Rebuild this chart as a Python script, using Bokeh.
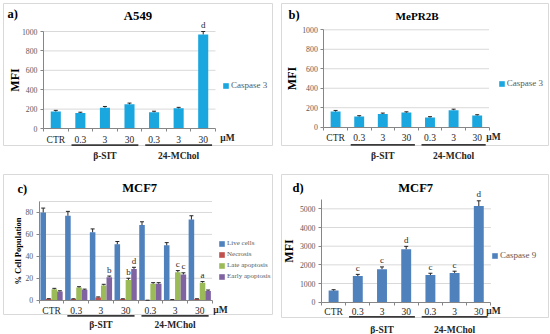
from bokeh.plotting import figure
from bokeh.layouts import column, row
from bokeh.models import (Range1d, FixedTicker, Legend, LegendItem, Label,
                          Whisker, TeeHead, ColumnDataSource, BoxAnnotation)
from bokeh.embed import file_html
from bokeh.resources import INLINE

# ---------------- data ----------------
categories = ["CTR", "0.3", "3", "30", "0.3", "3", "30"]
treatment_groups = ["β-SIT", "24-MChol"]
group_members = [[1, 2, 3], [4, 5, 6]]
unit_text = "μM"

a549_caspase3 = [175, 160, 215, 250, 168, 208, 970]
a549_caspase3_err = [12, 8, 12, 12, 10, 10, 30]
a549_letters = ["", "", "", "", "", "", "d"]

mepr2b_caspase3 = [160, 110, 135, 150, 100, 175, 120]
mepr2b_caspase3_err = [12, 8, 10, 8, 8, 10, 8]
mepr2b_letters = ["", "", "", "", "", "", ""]

mcf7_live = [80, 77, 62, 51, 68.5, 50, 73.5]
mcf7_live_err = [4, 4, 3, 2.5, 3, 2.5, 3.5]
mcf7_necrosis = [1, 1, 2.5, 1, 0, 0.4, 1]
mcf7_necrosis_err = [0.4, 0.3, 0.5, 0.3, 0, 0.2, 0.3]
mcf7_late = [10, 11.5, 13.5, 18.5, 15, 25.5, 16]
mcf7_late_err = [0.8, 0.8, 1.0, 1.5, 1.0, 1.5, 1.0]
mcf7_early = [8, 9.5, 21, 28.5, 15, 23.5, 8.5]
mcf7_early_err = [0.6, 0.6, 1.0, 1.5, 1.0, 1.5, 0.8]
mcf7_live_letters = ["", "", "", "", "", "", ""]
mcf7_necrosis_letters = ["", "", "", "", "", "", ""]
mcf7_late_letters = ["", "", "", "b", "", "c", "a"]
mcf7_early_letters = ["", "", "b", "d", "", "c", ""]

mcf7_caspase9 = [620, 1400, 1770, 2840, 1450, 1570, 5150]
mcf7_caspase9_err = [50, 90, 120, 150, 100, 90, 280]
mcf7_caspase9_letters = ["", "c", "c", "d", "c", "c", "d"]

# ---------------- style ----------------
FONT = "Liberation Serif"
FIG_W, FIG_H = 275, 167
TICK_GRAY = "#595959"
AXIS_GRAY = "#868686"
GRID_GRAY = "#D9D9D9"
DARK = "#262626"
CYAN = "#1AA7E0"
BLUE = "#4F81BD"
RED = "#C0504D"
GREEN = "#9BBB59"
PURPLE = "#8064A2"


def fpx(v):
    return "%.1fpx" % v


def make_panel(g, title, tag, ylabel, yticks, gridticks, ymax, series,
               bar_width, offsets):
    n = len(categories)
    idx = list(range(n))
    # plot-area geometry in figure pixels (figure frame covers the whole cell)
    L, R = g["axis_x"], g["plot_right"]
    T, B = g["top_px"], g["zero_px"]
    catw = (R - L) / float(n)
    ppu = (B - T) / float(ymax)
    x_start = -0.5 - L / catw
    x_end = x_start + FIG_W / catw
    y_end = B / ppu
    y_start = (B - FIG_H) / ppu

    def X(cx):
        return x_start + cx / catw

    def Y(cy):
        return (B - cy) / ppu

    p = figure(width=FIG_W, height=FIG_H,
               x_range=Range1d(x_start, x_end), y_range=Range1d(y_start, y_end),
               min_border=0, output_backend="svg", toolbar_location=None)
    p.outline_line_color = None
    p.xgrid.visible = False
    p.ygrid.visible = False

    # gridlines limited to the plot area
    p.segment(x0=-0.5, x1=n - 0.5, y0=gridticks, y1=gridticks,
              line_color=GRID_GRAY, line_width=1, level="underlay")

    # y axis
    ya = p.yaxis[0]
    ya.fixed_location = -0.5
    ya.bounds = (0, ymax)
    ya.ticker = FixedTicker(ticks=yticks)
    ya.axis_line_color = AXIS_GRAY
    ya.major_tick_line_color = AXIS_GRAY
    ya.major_tick_out = 3
    ya.major_tick_in = 0
    ya.minor_tick_line_color = None
    ya.major_label_text_font = FONT
    ya.major_label_text_font_size = fpx(7.8)
    ya.major_label_text_color = TICK_GRAY
    ya.major_label_standoff = 3
    ya.axis_label = ylabel
    ya.axis_label_text_font = FONT
    ya.axis_label_text_font_style = "bold"
    ya.axis_label_text_font_size = fpx(g["ylabel_font"])
    ya.axis_label_text_color = "#000000"
    ya.axis_label_standoff = int(g["ylabel_standoff"])

    # x axis (category labels)
    xa = p.xaxis[0]
    xa.fixed_location = 0
    xa.bounds = (-0.5, n - 0.5)
    xa.ticker = FixedTicker(ticks=idx, minor_ticks=[i - 0.5 for i in range(n + 1)])
    xa.major_label_overrides = {i: c for i, c in enumerate(categories)}
    xa.major_tick_line_color = None
    xa.major_tick_out = 0
    xa.major_tick_in = 0
    xa.minor_tick_out = 3
    xa.minor_tick_in = 0
    xa.minor_tick_line_color = AXIS_GRAY
    xa.axis_line_color = AXIS_GRAY
    xa.major_label_text_font = FONT
    xa.major_label_text_font_size = fpx(9.5)
    xa.major_label_text_color = DARK
    xa.major_label_standoff = int(g["xlabel_standoff"])

    items = []
    for (vals, errs, letters, color, label), off in zip(series, offsets):
        xs = [i + off for i in idx]
        r = p.vbar(x=xs, top=vals, width=bar_width, fill_color=color, line_color=None)
        items.append(LegendItem(label=label, renderers=[r]))
        src = ColumnDataSource(dict(base=xs, lower=vals,
                                    upper=[v + e for v, e in zip(vals, errs)]))
        p.add_layout(Whisker(source=src, base="base", lower="lower", upper="upper",
                             dimension="height", line_color=DARK, line_width=1,
                             lower_head=None,
                             upper_head=TeeHead(size=4, line_color=DARK, line_width=1),
                             level="annotation"))
        for x, v, e, t in zip(xs, vals, errs, letters):
            if t:
                p.add_layout(Label(x=x, y=v + e + 1.5 / ppu, text=t, text_align="center",
                                   text_baseline="bottom", text_font=FONT,
                                   text_font_size=fpx(9), text_color=DARK))

    # legend
    lf = g["legend_font"]
    row_h = lf * 1.15
    cys = g["legend_cy"]
    bottom = cys[-1] + row_h / 2 + g.get("legend_dy", 0)
    legend = Legend(items=items, location=(g["legend_x"], FIG_H - bottom),
                    orientation="vertical", glyph_width=7, glyph_height=7,
                    label_standoff=2, label_height=int(lf), label_width=10,
                    padding=0, margin=0, spacing=g.get("legend_spacing", 0),
                    border_line_color=None, background_fill_alpha=0,
                    label_text_font=FONT, label_text_font_size=fpx(lf),
                    label_text_color=TICK_GRAY)
    p.add_layout(legend)

    # title and panel tag
    p.add_layout(Label(x=X(g["title_left"]), y=Y(g["title_cy"]), text=title,
                       text_align="left", text_baseline="middle", text_font=FONT,
                       text_font_style="bold", text_font_size=fpx(g["title_font"]),
                       text_color="#000000"))
    p.add_layout(Label(x=X(g["tag_x"]), y=Y(g["tag_y"]), text=tag, text_align="left",
                       text_baseline="middle", text_font=FONT, text_font_style="bold",
                       text_font_size=fpx(12.5), text_color="#000000"))
    # unit
    p.add_layout(Label(x=X(g["unit_x"]), y=Y(g["cat_y"]), text=unit_text, text_align="center",
                       text_baseline="middle", text_font=FONT, text_font_style="bold",
                       text_font_size=fpx(9.5), text_color=DARK))
    # treatment groups: underline + name
    for name, members in zip(treatment_groups, group_members):
        p.segment(x0=members[0] - 0.36, x1=members[-1] + 0.36,
                  y0=Y(g["line_y"]), y1=Y(g["line_y"]),
                  line_color="#3A3A3A", line_width=1.8)
        p.add_layout(Label(x=sum(members) / float(len(members)), y=Y(g["group_y"]), text=name,
                           text_align="center", text_baseline="middle", text_font=FONT,
                           text_font_style="bold", text_font_size=fpx(9.5),
                           text_color=DARK))
    # chart area border
    bx = g["box"]
    p.add_layout(BoxAnnotation(left=X(bx[0]), right=X(bx[2]), top=Y(bx[1]), bottom=Y(bx[3]),
                               fill_color=None, line_color=GRID_GRAY, line_alpha=1,
                               line_width=1, level="underlay"))
    return p


geo_a = dict(axis_x=43, plot_right=215, top_px=31, zero_px=128,
             title_left=123.3, title_cy=15, title_font=12.8,
             tag_x=7, tag_y=13.5, ylabel_font=12, ylabel_standoff=-3,
             xlabel_standoff=3, cat_y=137.5, unit_x=227, line_y=144.6, group_y=155,
             legend_x=222, legend_cy=[85], legend_font=9, box=(3, 3, 272, 145))
geo_b = dict(axis_x=48.3, plot_right=213.5, top_px=29.3, zero_px=126.7,
             title_left=120, title_cy=15, title_font=11.1,
             tag_x=13, tag_y=14, ylabel_font=12, ylabel_standoff=0,
             xlabel_standoff=3, cat_y=136.5, unit_x=218, line_y=144.3, group_y=155.7,
             legend_x=222.7, legend_cy=[83], legend_font=9, box=(6, 3, 273, 145))
geo_c = dict(axis_x=38.7, plot_right=211.6, top_px=34, zero_px=132.7,
             title_left=121.7, title_cy=20, title_font=12.6,
             tag_x=17, tag_y=21.5, ylabel_font=8.5, ylabel_standoff=0,
             xlabel_standoff=3, cat_y=142, unit_x=220, line_y=148.3, group_y=157.5,
             legend_x=218, legend_cy=[73.7, 84, 94.7, 105.3], legend_font=7,
             legend_spacing=3, legend_dy=4, box=(3, 7, 272, 147))
geo_d = dict(axis_x=46, plot_right=215.4, top_px=32, zero_px=134.7,
             title_left=122.7, title_cy=20, title_font=12.6,
             tag_x=17, tag_y=20, ylabel_font=12, ylabel_standoff=1,
             xlabel_standoff=2, cat_y=143, unit_x=218, line_y=149.3, group_y=162,
             legend_x=216, legend_cy=[88.3], legend_font=9, box=(6, 7, 273, 150))

pa = make_panel(geo_a, "A549", "a)", "MFI", [0, 200, 400, 600, 800, 1000],
                [200, 400, 600, 800, 1000], 1000,
                [(a549_caspase3, a549_caspase3_err, a549_letters, CYAN, "Caspase 3")],
                0.41, [0])
pb = make_panel(geo_b, "MePR2B", "b)", "MFI", [0, 200, 400, 600, 800, 1000],
                [200, 400, 600, 800, 1000], 1000,
                [(mepr2b_caspase3, mepr2b_caspase3_err, mepr2b_letters, CYAN, "Caspase 3")],
                0.42, [0])
pc = make_panel(geo_c, "MCF7", "c)", "% Cell Population", [0, 20, 40, 60, 80],
                [20, 40, 60, 80, 90], 90,
                [(mcf7_live, mcf7_live_err, mcf7_live_letters, BLUE, "Live cells"),
                 (mcf7_necrosis, mcf7_necrosis_err, mcf7_necrosis_letters, RED, "Necrosis"),
                 (mcf7_late, mcf7_late_err, mcf7_late_letters, GREEN, "Late apoptosis"),
                 (mcf7_early, mcf7_early_err, mcf7_early_letters, PURPLE, "Early apoptosis")],
                0.225, [-0.3375, -0.1125, 0.1125, 0.3375])
pd_ = make_panel(geo_d, "MCF7", "d)", "MFI", [0, 1000, 2000, 3000, 4000, 5000],
                 [1000, 2000, 3000, 4000, 5000], 5500,
                 [(mcf7_caspase9, mcf7_caspase9_err, mcf7_caspase9_letters, BLUE, "Caspase 9")],
                 0.41, [0])

layout = column(row(pa, pb), row(pc, pd_))
open("out.html", "w").write(file_html(layout, INLINE))
